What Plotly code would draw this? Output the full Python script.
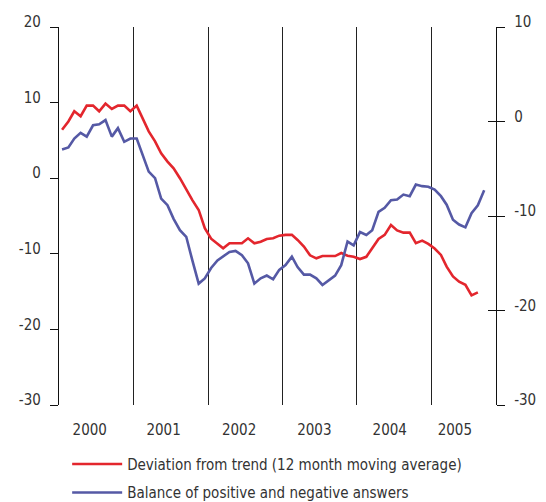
import pandas as pd
import plotly.graph_objects as go

# ---- data (monthly, Jan 2000 onwards) ----
deviation = [6.4, 7.5, 8.85, 8.2, 9.6, 9.6, 8.85, 9.87, 9.16, 9.6, 9.6, 8.85,
             9.6, 7.75, 6.2, 4.87, 3.3, 2.2, 1.3, 0.0, -1.5, -2.9, -4.2, -6.6,
             -8.0, -8.7, -9.27, -8.6, -8.6, -8.6, -7.95, -8.6, -8.4, -8.04, -7.95, -7.6,
             -7.5, -7.5, -8.17, -9.05, -10.2, -10.6, -10.3, -10.3, -10.3, -9.9, -10.25, -10.4,
             -10.7, -10.4, -9.3, -8.04, -7.5, -6.2, -6.9, -7.2, -7.2, -8.6, -8.26, -8.7,
             -9.3, -10.15, -11.7, -13.0, -13.7, -14.1, -15.5, -15.1]
balance = [-2.96, -2.75, -1.8, -1.2, -1.6, -0.4, -0.3, 0.15, -1.6, -0.7, -2.15, -1.8,
           -1.8, -3.56, -5.3, -6.0, -8.15, -8.86, -10.3, -11.5, -12.2, -14.7, -17.15, -16.6,
           -15.5, -14.7, -14.3, -13.8, -13.7, -14.15, -15.0, -17.15, -16.6, -16.3, -16.7, -15.7,
           -15.2, -14.3, -15.4, -16.2, -16.2, -16.6, -17.3, -16.8, -16.3, -15.2, -12.7, -13.1,
           -11.7, -12.0, -11.5, -9.56, -9.14, -8.33, -8.26, -7.73, -7.9, -6.67, -6.84, -6.9,
           -7.2, -7.9, -8.8, -10.4, -10.9, -11.2, -9.7, -8.86, -7.27]

year_labels = ["2000", "2001", "2002", "2003", "2004", "2005"]
year_label_dates = ["2000-05-31", "2001-05-28", "2002-06-02", "2003-06-06", "2004-06-10", "2005-04-25"]
year_boundaries = ["2001-01-01", "2002-01-01", "2003-01-01", "2004-01-01", "2005-01-01"]
left_ticks = [-30, -20, -10, 0, 10, 20]
right_ticks = [-30, -20, -10, 0, 10]

names = ["Deviation from trend (12 month moving average)",
         "Balance of positive and negative answers"]

RED = "#e3262d"
BLUE = "#5559a5"
TXT = "#333333"
FONT = "Liberation Sans Narrow, DejaVu Sans Condensed, Roboto, sans-serif"

months_dev = pd.date_range("2000-01-01", periods=len(deviation), freq="MS") + pd.Timedelta(days=15)
months_bal = pd.date_range("2000-01-01", periods=len(balance), freq="MS") + pd.Timedelta(days=15)

fig = go.Figure()
fig.add_trace(go.Scatter(x=months_dev, y=deviation, mode="lines", name=names[0],
                         line=dict(color=RED, width=2.6), yaxis="y", legendgroup="a"))
fig.add_trace(go.Scatter(x=months_bal, y=balance, mode="lines", name=names[1],
                         line=dict(color=BLUE, width=2.6), yaxis="y2", legendgroup="b"))

fig.update_layout(
    width=546, height=502,
    margin=dict(l=59, r=50, t=27, b=97, autoexpand=False),
    paper_bgcolor="white", plot_bgcolor="white",
    font=dict(family=FONT, size=15, color=TXT),
    showlegend=True,
    legend=dict(x=0.123, xref="container", y=0.108, yref="container",
                yanchor="top", xanchor="left",
                orientation="v", traceorder="grouped", tracegroupgap=6,
                itemwidth=50, font=dict(size=15, color=TXT), bgcolor="rgba(0,0,0,0)"),
    xaxis=dict(type="date", range=["2000-01-01", "2005-11-13"],
               showline=False, zeroline=False, showgrid=False, automargin=False,
               tickmode="array", tickvals=year_label_dates, ticktext=year_labels,
               ticks="", ticklabelstandoff=14,
               minor=dict(tickmode="array", tickvals=year_boundaries, showgrid=True,
                          gridcolor="#222222", gridwidth=1.3, ticks="")),
    yaxis=dict(range=[-30, 20], tickmode="array", tickvals=left_ticks,
               ticktext=[str(v) for v in left_ticks], automargin=False,
               showline=True, linecolor="#111111", linewidth=1.3,
               ticks="outside", ticklen=8, tickcolor="#111111", tickwidth=1.3,
               showgrid=False, zeroline=False, ticklabelshift=-5, ticklabelstandoff=6),
    yaxis2=dict(range=[-30, 10], tickmode="array", tickvals=right_ticks,
                ticktext=[str(v) for v in right_ticks], automargin=False,
                overlaying="y", side="right", anchor="x",
                showline=True, linecolor="#111111", linewidth=1.3,
                ticks="outside", ticklen=8, tickcolor="#111111", tickwidth=1.3,
                showgrid=False, zeroline=False, ticklabelshift=-5, ticklabelstandoff=6),
    yaxis3=dict(range=[-30, 10], tickmode="array", tickvals=right_ticks, automargin=False,
                overlaying="y", side="right", anchor="x",
                showline=False, ticks="inside", ticklen=8, tickcolor="#111111", tickwidth=1.3,
                showticklabels=False, showgrid=False, zeroline=False),
)

# invisible trace so yaxis3 is drawn
fig.add_trace(go.Scatter(x=months_bal[:1], y=balance[:1], yaxis="y3", mode="lines",
                         showlegend=False, hoverinfo="skip", line=dict(width=0)))

fig.write_html("out.html", config={"displayModeBar": False},
               post_script="document.body.style.margin='0px';")
